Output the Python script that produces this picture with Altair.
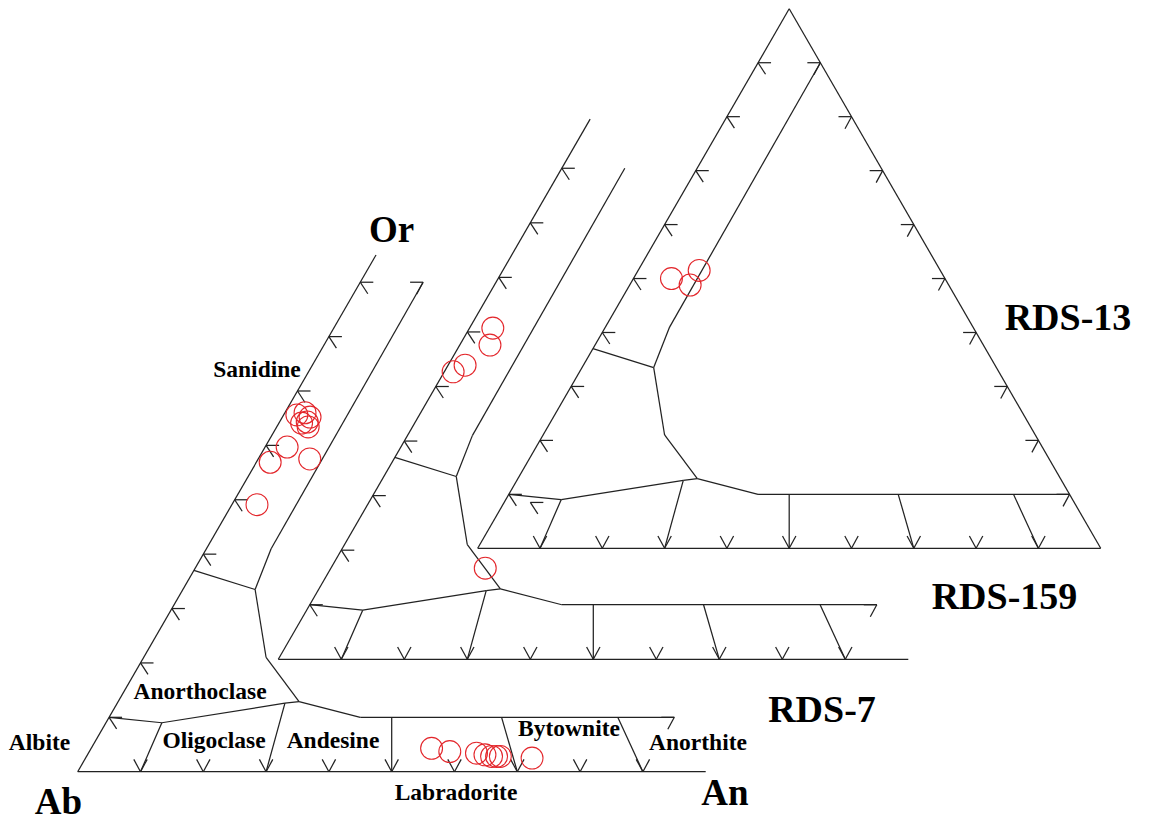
import math
import altair as alt
import pandas as pd

# ---------------- data: feldspar compositions (fractions An, Or; Ab = rest) ----------------
rds13_an = [0.061, 0.098, 0.097]
rds13_or = [0.500, 0.515, 0.488]

rds159_an = [0.037, 0.048, 0.027, 0.014, 0.245]
rds159_or = [0.607, 0.576, 0.539, 0.527, 0.167]

rds7_an = [0.032, 0.044, 0.036, 0.050, 0.021, 0.044, 0.035, 0.022, 0.082, 0.040,
           0.542, 0.574, 0.618, 0.633, 0.645, 0.653, 0.659, 0.711]
rds7_or = [0.660, 0.652, 0.641, 0.634, 0.656, 0.643, 0.597, 0.569, 0.575, 0.491,
           0.043, 0.037, 0.034, 0.031, 0.028, 0.028, 0.028, 0.025]

# ---------------- classification field boundaries (An, Or) ----------------
plag_line_an = [0.0, 0.089, 0.267, 0.288]
plag_line_or = [0.100, 0.090, 0.126, 0.129]
alkali_line_an = [0.288, 0.195, 0.115, 0.103, 0.100]
alkali_line_or = [0.129, 0.210, 0.335, 0.410, 0.900]
sanidine_line_an = [0.0, 0.115]
sanidine_line_or = [0.370, 0.335]
plag_top_an = [0.288, 0.400, 0.900]
plag_top_or = [0.129, 0.100, 0.100]
divider_top_an = [0.089, 0.267, 0.450, 0.625, 0.810]
divider_top_or = [0.090, 0.126, 0.100, 0.100, 0.100]
divider_base_an = [0.10, 0.30, 0.50, 0.70, 0.90]
tick_levels = [0.1, 0.2, 0.3, 0.4, 0.5, 0.6, 0.7, 0.8, 0.9]

samples = ["RDS-13", "RDS-159", "RDS-7"]
field_names = ["Sanidine", "Anorthoclase", "Albite", "Oligoclase", "Andesine",
               "Labradorite", "Bytownite", "Anorthite"]
apex_names = ["Or", "Ab", "An"]

# ---------------- layout (page geometry of each ternary frame) ----------------
layout = {
    "RDS-13": dict(ox=477.7, oy=548.3, L=623.0, left_top=1.0, right_edge=True,
                   right_ticks=tick_levels, stray=[(0.042, 0.085)]),
    "RDS-159": dict(ox=278.3, oy=659.3, L=630.0, left_top=0.99, right_edge=False,
                    right_ticks=[0.1], stray=[]),
    "RDS-7": dict(ox=77.7, oy=771.7, L=628.0, left_top=0.95, right_edge=False,
                  right_ticks=[0.1, 0.9], stray=[]),
}
SQ = math.sqrt(3) / 2


def to_xy(d, an, o):
    g = layout[d]
    return g["ox"] + g["L"] * (an + o / 2.0), g["oy"] - g["L"] * SQ * o


segs = []


def seg(d, p, q):
    x1, y1 = to_xy(d, *p)
    x2, y2 = to_xy(d, *q)
    segs.append(dict(x=x1, y=y1, x2=x2, y2=y2))


def poly(d, ans, ors):
    for i in range(len(ans) - 1):
        seg(d, (ans[i], ors[i]), (ans[i + 1], ors[i + 1]))


def tick(d, p, offs):
    x, y = to_xy(d, *p)
    for dx, dy in offs:
        segs.append(dict(x=x, y=y, x2=x + dx, y2=y + dy))


LEFT_T = [(13, 0), (7.5, 11.5)]
RIGHT_T = [(-13, 0), (-6.5, 12)]
BASE_T = [(-6.7, -12.3), (6.7, -12.3)]

for d in samples:
    g = layout[d]
    seg(d, (0, 0), (1, 0))
    seg(d, (0, 0), (0, g["left_top"]))
    if g["right_edge"]:
        seg(d, (1, 0), (0, 1))
    poly(d, plag_line_an, plag_line_or)
    poly(d, alkali_line_an, alkali_line_or)
    poly(d, sanidine_line_an, sanidine_line_or)
    poly(d, plag_top_an, plag_top_or)
    for a0, o0, a1 in zip(divider_top_an, divider_top_or, divider_base_an):
        seg(d, (a0, o0), (a1, 0))
    for t in tick_levels:
        tick(d, (t, 0), BASE_T)
        tick(d, (0, t), LEFT_T)
    for t in g["right_ticks"]:
        tick(d, (1 - t, t), RIGHT_T)
    for p in g["stray"]:
        tick(d, p, LEFT_T)

seg_df = pd.DataFrame(segs)

pts = []
for d, ans, ors in [("RDS-13", rds13_an, rds13_or), ("RDS-159", rds159_an, rds159_or),
                    ("RDS-7", rds7_an, rds7_or)]:
    for a, o in zip(ans, ors):
        x, y = to_xy(d, a, o)
        pts.append(dict(sample=d, An=a, Or=o, x=x, y=y))
pts_df = pd.DataFrame(pts)

# text labels (center x, baseline y, font size)
field_x = [257, 200, 39.5, 214, 333, 456, 569, 698]
field_y = [376.7, 699.3, 750, 748, 748, 800, 736, 750]
apex_x = [391.5, 58.5, 725]
apex_y = [241.7, 814, 805]
sample_x = [1068, 1004.5, 822]
sample_y = [330, 609.3, 722]

txt = []
for n, x, y in zip(field_names, field_x, field_y):
    txt.append(dict(label=n, x=x, y=y, fs=23.5))
for n, x, y in zip(apex_names, apex_x, apex_y):
    txt.append(dict(label=n, x=x, y=y, fs=37))
for n, x, y in zip(samples, sample_x, sample_y):
    txt.append(dict(label=n, x=x, y=y, fs=38))
txt_df = pd.DataFrame(txt)

xs = alt.Scale(domain=[8, 1145], nice=False, zero=False)
ys = alt.Scale(domain=[8, 822], nice=False, zero=False, reverse=True)

lines = alt.Chart(seg_df).mark_rule(color="#222222", strokeWidth=1.25).encode(
    x=alt.X("x:Q", scale=xs, axis=None),
    y=alt.Y("y:Q", scale=ys, axis=None),
    x2="x2:Q",
    y2="y2:Q",
)

points = alt.Chart(pts_df).mark_point(
    shape="circle", filled=False, color="#e3262b", strokeWidth=1.1, size=480, opacity=1
).encode(
    x=alt.X("x:Q", scale=xs, axis=None),
    y=alt.Y("y:Q", scale=ys, axis=None),
    tooltip=["sample:N", "An:Q", "Or:Q"],
)

texts = alt.Chart(txt_df).mark_text(
    font="Liberation Serif", fontWeight="bold", align="center", baseline="alphabetic",
    color="#000000",
).encode(
    x=alt.X("x:Q", scale=xs, axis=None),
    y=alt.Y("y:Q", scale=ys, axis=None),
    text="label:N",
    size=alt.Size("fs:Q", scale=None, legend=None),
)

chart = alt.layer(lines, points, texts).properties(
    width=1137, height=814, padding=0,
    autosize=alt.AutoSizeParams(type="none"),
    background="white",
).configure_view(stroke=None)

chart.save("out.html", embed_options={"renderer": "svg", "actions": False})
